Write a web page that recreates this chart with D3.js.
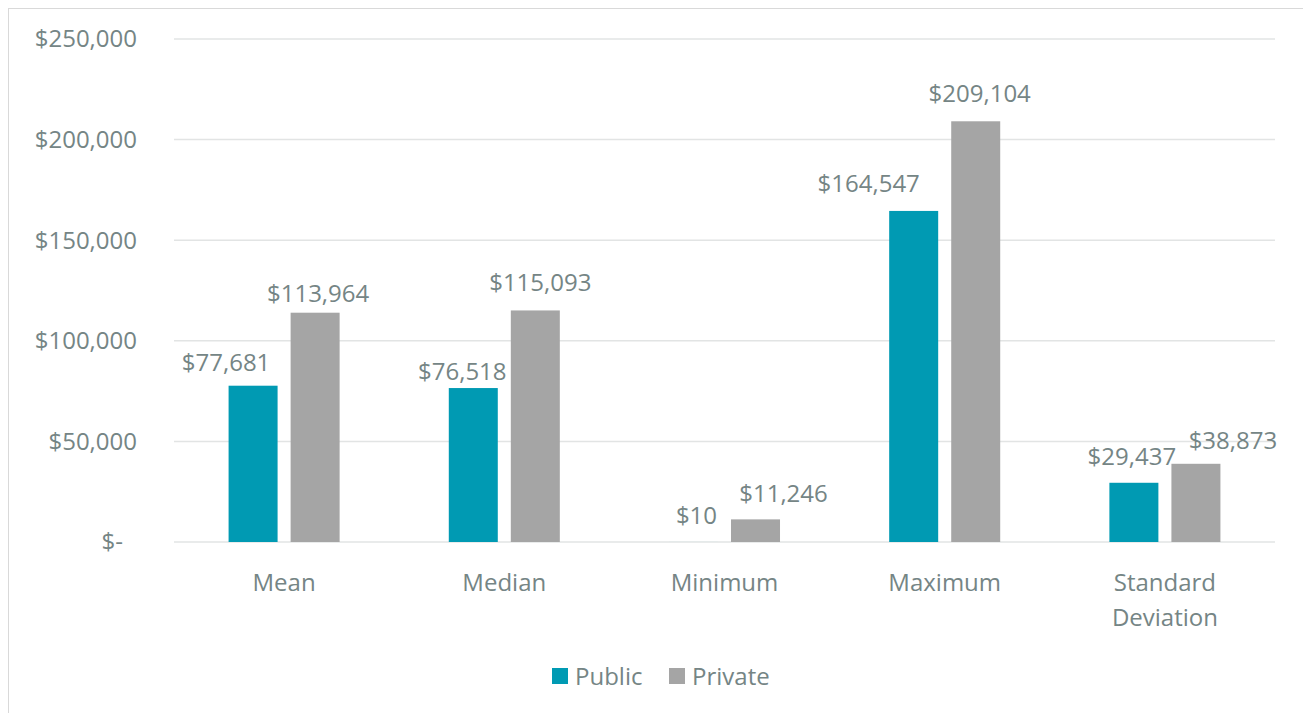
<!DOCTYPE html>
<html lang="en">
<head>
    <meta charset="UTF-8">
    <title>Public vs Private</title>
    <style>
        body {
            margin: 0;
            background-color: #ffffff;
        }
        svg text {
            font-family: "Open Sans", "Noto Sans", sans-serif;
            fill: #758585;
            font-size: 24px;
        }
        .grid line {
            stroke: #e2e4e4;
            stroke-width: 1.5px;
        }
    </style>
    <script src="https://d3js.org/d3.v7.min.js"></script>
</head>
<body>
    <div id="chart"></div>

    <script>
        const categories = ["Mean", "Median", "Minimum", "Maximum", "Standard Deviation"];
        const seriesNames = ["Public", "Private"];
        const publicValues = [77681, 76518, 10, 164547, 29437];
        const privateValues = [113964, 115093, 11246, 209104, 38873];
        const yTicks = [0, 50000, 100000, 150000, 200000, 250000];
        const colors = ["#009ab3", "#a5a5a5"];

        // labels were dragged by hand in the original, so nudge them [dx, dy]
        const publicLabelNudge = [[-27, -15], [-11, -8], [3, -18], [-45, -19], [-2, -18]];
        const privateLabelNudge = [[3, -11], [5, -19], [28, -17], [4, -19], [37, -15]];

        const width = 1303, height = 713;
        const margin = { left: 174, right: 28, top: 39, bottom: 171 };

        const svg = d3.select("#chart")
            .append("svg")
            .attr("width", width)
            .attr("height", height);

        // chart frame
        svg.append("rect")
            .attr("x", 8.5).attr("y", 8.5)
            .attr("width", width + 20).attr("height", height + 20)
            .attr("fill", "none")
            .attr("stroke", "#d9d9d9");

        const x = d3.scaleBand()
            .domain(categories)
            .range([margin.left, width - margin.right]);

        const xInner = d3.scaleBand()
            .domain(seriesNames)
            .range([0, x.bandwidth()])
            .paddingInner(0.21)
            .paddingOuter(0.88);

        const y = d3.scaleLinear()
            .domain([0, 250000])
            .range([height - margin.bottom, margin.top]);

        const fmt = d3.format("$,");
        const tickFmt = d => d === 0 ? "$-" : fmt(d);

        // gridlines
        svg.append("g")
            .attr("class", "grid")
            .selectAll("line")
            .data(yTicks)
            .enter().append("line")
            .attr("x1", margin.left)
            .attr("x2", width - margin.right)
            .attr("y1", d => y(d))
            .attr("y2", d => y(d));

        // y axis labels
        svg.append("g")
            .selectAll("text")
            .data(yTicks)
            .enter().append("text")
            .attr("x", d => d === 0 ? 123 : 137)
            .attr("y", d => y(d))
            .attr("dy", "0.35em")
            .attr("text-anchor", "end")
            .text(tickFmt);

        const rows = categories.map((c, i) => ({
            category: c,
            values: [
                { series: seriesNames[0], value: publicValues[i], color: colors[0], nudge: publicLabelNudge[i] },
                { series: seriesNames[1], value: privateValues[i], color: colors[1], nudge: privateLabelNudge[i] }
            ]
        }));

        const groups = svg.append("g")
            .selectAll("g")
            .data(rows)
            .enter().append("g")
            .attr("transform", d => `translate(${x(d.category)},0)`);

        groups.selectAll("rect")
            .data(d => d.values)
            .enter().append("rect")
            .attr("x", d => xInner(d.series))
            .attr("width", xInner.bandwidth())
            .attr("y", d => y(d.value))
            .attr("height", d => y(0) - y(d.value))
            .attr("fill", d => d.color);

        groups.selectAll("text.label")
            .data(d => d.values)
            .enter().append("text")
            .attr("class", "label")
            .attr("x", d => xInner(d.series) + xInner.bandwidth() / 2 + d.nudge[0])
            .attr("y", d => y(d.value) + d.nudge[1])
            .attr("text-anchor", "middle")
            .text(d => fmt(d.value));

        // category labels
        const catLabels = svg.append("g")
            .selectAll("text")
            .data(categories)
            .enter().append("text")
            .attr("x", d => x(d) + x.bandwidth() / 2)
            .attr("y", 591)
            .attr("text-anchor", "middle");

        catLabels.each(function (d) {
            const words = d === "Standard Deviation" ? ["Standard", "Deviation"] : [d];
            const t = d3.select(this);
            words.forEach((w, i) => {
                t.append("tspan")
                    .attr("x", x(d) + x.bandwidth() / 2)
                    .attr("dy", i === 0 ? 0 : 35)
                    .text(w);
            });
        });

        // legend
        const legend = svg.append("g");
        const legendX = [552, 669];
        seriesNames.forEach((s, i) => {
            legend.append("rect")
                .attr("x", legendX[i])
                .attr("y", 668)
                .attr("width", 16)
                .attr("height", 16)
                .attr("fill", colors[i]);
            legend.append("text")
                .attr("x", legendX[i] + 23)
                .attr("y", 685)
                .text(s);
        });
    </script>
</body>
</html>
